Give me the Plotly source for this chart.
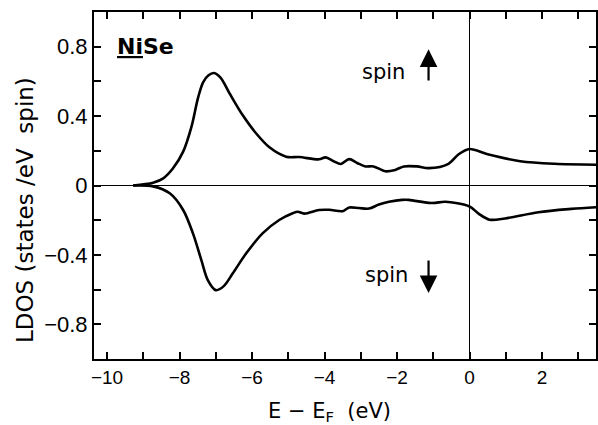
import plotly.graph_objects as go

# ---- data ----
energy_up = [-9.28, -8.73, -8.45, -8.18, -7.90, -7.67, -7.49, -7.35, -7.2, -7.05, -6.87,
             -6.62, -6.26, -5.89, -5.52, -5.06, -4.70, -4.15, -3.97, -3.75, -3.55,
             -3.32, -3.1, -2.87, -2.65, -2.32, -2.05, -1.81, -1.45, -1.12, -0.58,
             -0.3, 0.0, 0.5, 1.4, 2.35, 3.5]
ldos_up = [0.0, 0.016, 0.041, 0.099, 0.195, 0.339, 0.505, 0.595, 0.635, 0.648, 0.622,
           0.531, 0.406, 0.301, 0.220, 0.166, 0.164, 0.151, 0.162, 0.14, 0.124,
           0.152, 0.13, 0.11, 0.11, 0.082, 0.09, 0.11, 0.11, 0.10, 0.125,
           0.18, 0.21, 0.18, 0.14, 0.125, 0.12]

energy_dn = [-9.28, -8.73, -8.27, -7.90, -7.63, -7.40, -7.22, -7.0, -6.78, -6.53,
             -6.16, -5.71, -5.25, -4.88, -4.74, -4.56, -4.15, -3.87, -3.5, -3.32,
             -3.05, -2.77, -2.5, -2.22, -1.86, -1.68, -1.13, -0.94, -0.67, 0.0,
             0.26, 0.55, 0.98, 1.9, 2.81, 3.5]
ldos_dn = [0.0, -0.005, -0.045, -0.141, -0.276, -0.429, -0.545, -0.603, -0.58, -0.506,
           -0.391, -0.276, -0.199, -0.160, -0.151, -0.162, -0.141, -0.14, -0.148, -0.127,
           -0.13, -0.133, -0.11, -0.094, -0.083, -0.083, -0.10, -0.10, -0.094, -0.121,
           -0.164, -0.197, -0.19, -0.154, -0.135, -0.125]

x_tickvals = [-10, -9, -8, -7, -6, -5, -4, -3, -2, -1, 0, 1, 2, 3]
x_ticktext = ["\u221210", "", "\u22128", "", "\u22126", "", "\u22124", "", "\u22122", "", "0", "", "2", ""]
y_tickvals = [-0.8, -0.6, -0.4, -0.2, 0, 0.2, 0.4, 0.6, 0.8]
y_ticktext = ["\u22120.8", "", "\u22120.4", "", "0", "", "0.4", "", "0.8"]

FONT = "Liberation Sans, Arial, sans-serif"
TFONT = "DejaVu Sans, sans-serif"

fig = go.Figure()
fig.add_trace(go.Scatter(x=energy_up, y=ldos_up, mode="lines",
                         line=dict(color="black", width=2.6, shape="spline", smoothing=0.9),
                         hoverinfo="skip", showlegend=False))
fig.add_trace(go.Scatter(x=energy_dn, y=ldos_dn, mode="lines",
                         line=dict(color="black", width=2.6, shape="spline", smoothing=0.9),
                         hoverinfo="skip", showlegend=False))

axis_common = dict(showline=True, linecolor="black", linewidth=2, mirror="ticks",
                   ticks="inside", ticklen=7, tickwidth=2, tickcolor="black",
                   showgrid=False, zeroline=True, zerolinecolor="black", zerolinewidth=1)

fig.update_xaxes(range=[-10.36, 3.49], tickmode="array", tickvals=x_tickvals,
                 ticktext=x_ticktext, tickfont=dict(family=FONT, size=19, color="black"),
                 **axis_common)
fig.update_yaxes(range=[-1, 1], tickmode="array", tickvals=y_tickvals,
                 ticktext=y_ticktext, tickfont=dict(family=FONT, size=22, color="black"),
                 **axis_common)

annots = [
    dict(x=-8.94, y=0.804, xref="x", yref="y", text="<b><u>Ni</u>Se</b>", showarrow=False,
         font=dict(family=TFONT, size=22, color="black"), xanchor="center", yanchor="middle"),
    dict(x=-2.36, y=0.654, xref="x", yref="y", text="spin", showarrow=False,
         font=dict(family=TFONT, size=21, color="black"), xanchor="center", yanchor="middle"),
    dict(x=-2.28, y=-0.516, xref="x", yref="y", text="spin", showarrow=False,
         font=dict(family=TFONT, size=21, color="black"), xanchor="center", yanchor="middle"),
    dict(x=-1.13, y=0.785, ax=-1.13, ay=0.597, xref="x", yref="y", axref="x", ayref="y",
         text="", showarrow=True, arrowhead=2, arrowsize=1.6, arrowwidth=2.2, arrowcolor="black"),
    dict(x=-1.13, y=-0.62, ax=-1.13, ay=-0.424, xref="x", yref="y", axref="x", ayref="y",
         text="", showarrow=True, arrowhead=2, arrowsize=1.6, arrowwidth=2.2, arrowcolor="black"),
    dict(x=-0.137, y=0.43, xref="paper", yref="paper", text="LDOS (states /eV  spin)",
         textangle=-90, showarrow=False, font=dict(family=TFONT, size=23, color="black"),
         xanchor="center", yanchor="middle"),
    dict(x=0.47, y=-0.152, xref="paper", yref="paper", text="E \u2212 E<sub>F</sub>  (eV)",
         showarrow=False, font=dict(family=TFONT, size=21, color="black"),
         xanchor="center", yanchor="middle"),
]

fig.update_layout(width=598, height=425, margin=dict(l=94, r=0, t=12, b=66),
                  paper_bgcolor="white", plot_bgcolor="white", annotations=annots)

fig.write_html("out.html")
